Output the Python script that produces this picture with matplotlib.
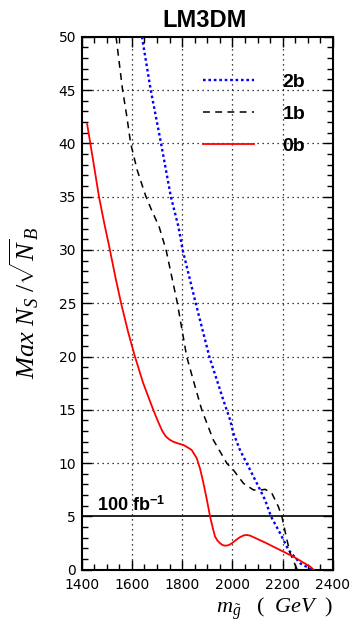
import numpy as np
import matplotlib
matplotlib.use("Agg")
import matplotlib.pyplot as plt
from matplotlib.ticker import MultipleLocator
from matplotlib.lines import Line2D

# fuentes: Times italica para las etiquetas de ejes (como ROOT)
plt.rcParams['mathtext.fontset'] = 'custom'
plt.rcParams['mathtext.it'] = 'Liberation Serif:italic'
plt.rcParams['mathtext.rm'] = 'Liberation Serif'
plt.rcParams['mathtext.bf'] = 'Liberation Sans:bold'
plt.rcParams['font.family'] = ['DejaVu Sans']

# datos (masa del gluino en GeV, Max Ns/sqrt(Nb))
m_0b = [1422, 1445, 1469, 1490, 1510, 1533, 1557, 1585, 1612, 1645, 1685, 1705, 1720,
        1735, 1750, 1765, 1790, 1805, 1820, 1838, 1858, 1871, 1884, 1898, 1911, 1922,
        1931, 1940, 1950, 1960, 1971, 1985, 1998, 2015, 2030, 2045, 2057, 2070, 2130,
        2203, 2243, 2310, 2323]
s_0b = [41.8, 38.5, 35.0, 32.5, 30.3, 27.6, 25.0, 22.3, 20.0, 17.5, 15.0, 13.85, 13.05,
        12.5, 12.2, 12.0, 11.8, 11.7, 11.5, 11.23, 10.45, 9.5, 8.2, 6.6, 5.0, 3.9,
        3.1, 2.75, 2.5, 2.32, 2.25, 2.3, 2.48, 2.8, 3.05, 3.22, 3.26, 3.2, 2.55,
        1.69, 1.22, 0.28, 0.0]

m_1b = [1537, 1563, 1580, 1595, 1621, 1639, 1656, 1679, 1708, 1736, 1781, 1818, 1850,
        1878, 1924, 1978, 2004, 2044, 2084, 2105, 2130, 2157, 2183, 2197, 2217, 2230,
        2250, 2258]
s_1b = [50, 45, 42.5, 40, 37.5, 36.2, 35, 33.7, 32.2, 30, 25, 20, 17.3,
        15, 12.17, 9.98, 9.35, 8.1, 7.48, 7.45, 7.54, 7.17, 5.91, 4.97, 2.79, 1.54,
        0.44, 0]

m_2b = [1640, 1675, 1716, 1755, 1785, 1802, 1854, 1908, 1964, 1991, 2004, 2030, 2064,
        2104, 2130, 2154, 2190, 2223, 2270, 2316]
s_2b = [50, 45, 40, 35, 32.2, 30, 25, 20, 15.9, 14.04, 12.8, 11.23, 9.66,
        7.79, 6.54, 4.97, 3.41, 1.85, 0.6, 0.0]

limite = 5  # 5 sigma, 100 fb-1

fig = plt.figure(figsize=(3.58, 6.33), dpi=100)
ax = fig.add_axes([0.228, 0.100, 0.702, 0.842])

# rejilla punteada
for xg in [1600, 1800, 2000, 2200]:
    ax.axvline(xg, color='black', lw=0.9, ls=(0, (1, 3)), zorder=1)
for yg in [10, 15, 20, 25, 30, 35, 40, 45]:
    ax.axhline(yg, color='black', lw=0.9, ls=(0, (1, 3)), zorder=1)

ax.axhline(limite, color='black', lw=1.2, zorder=2)

estilo_2b = dict(color='#0000ff', lw=1.7, ls=(0, (1.1, 1.2)))
estilo_1b = dict(color='black', lw=1.1, ls=(0, (4.5, 3.5)))
estilo_0b = dict(color='#ff0000', lw=1.3)

ax.plot(m_2b, s_2b, zorder=3, **estilo_2b)
ax.plot(m_1b, s_1b, zorder=3, **estilo_1b)
ax.plot(m_0b, s_0b, zorder=4, **estilo_0b)

ax.text(1460, 5.15, r'100 fb$^{\mathbf{-1}}$', fontsize=13, fontweight='bold',
        family='Liberation Sans', va='bottom', ha='left')

ax.set_xlim(1400, 2400)
ax.set_ylim(0, 50)
ax.xaxis.set_major_locator(MultipleLocator(200))
ax.xaxis.set_minor_locator(MultipleLocator(50))
ax.yaxis.set_major_locator(MultipleLocator(5))
ax.yaxis.set_minor_locator(MultipleLocator(1))
ax.tick_params(which='both', direction='in', top=True, right=True, labelsize=10)
ax.tick_params(which='major', length=7, width=1)
ax.tick_params(which='minor', length=4.5, width=1)
ax.tick_params(axis='x', which='major', pad=6)
ax.tick_params(axis='y', which='major', pad=4)
for sp in ax.spines.values():
    sp.set_linewidth(1.5)

ax.set_ylabel(r'$Max\ N_{S}\ /\sqrt{N}_{B}$', fontsize=19)
ax.yaxis.set_label_coords(-0.16, 0.5)
ax.set_xlabel(r'$m_{\tilde{g}}\ \ \ (\ \ GeV\ \ )$', fontsize=16, loc='right')
ax.xaxis.set_label_coords(1.0, -0.048)

# leyenda
handles = [Line2D([], [], **estilo_2b),
           Line2D([], [], **estilo_1b),
           Line2D([], [], **estilo_0b)]
ax.legend(handles, ['2b', '1b', '0b'], loc='upper left', bbox_to_anchor=(0.483, 0.932),
          frameon=False, prop={'family': 'Liberation Sans', 'weight': 'bold', 'size': 14},
          handlelength=2.6, handletextpad=1.5, labelspacing=0.75, borderpad=0,
          borderaxespad=0)

fig.text(0.572, 0.9578, 'LM3DM', ha='center', va='baseline', fontsize=17,
         fontweight='bold', family='Liberation Sans')

fig.savefig('out.png', dpi=100)
